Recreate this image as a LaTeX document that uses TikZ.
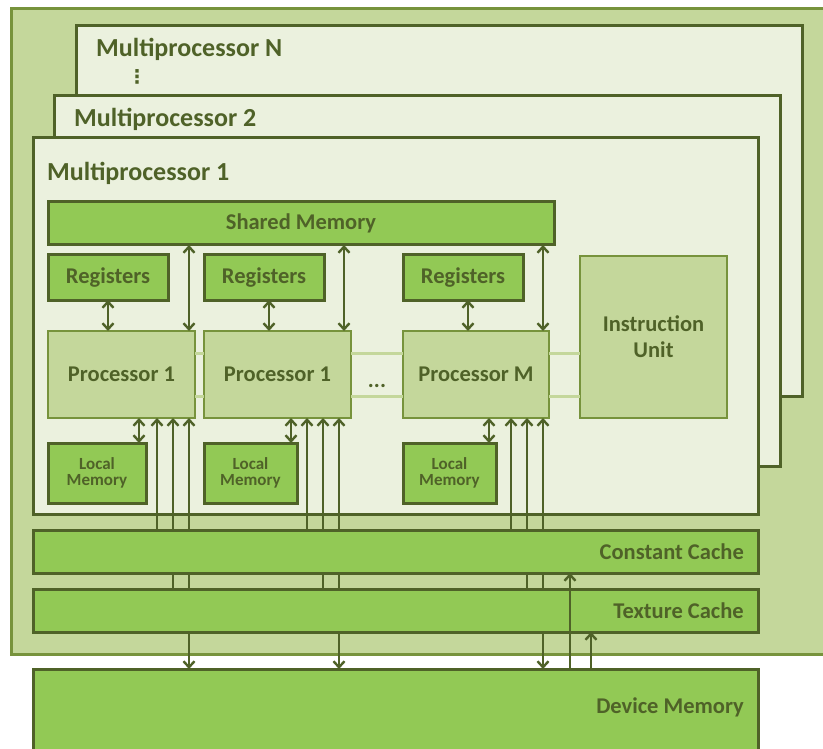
\documentclass[tikz,border=0pt]{standalone}
\usepackage{fontspec}
\setmainfont{Carlito}
\newfontfamily\dejavu{DejaVu Sans}
\usetikzlibrary{arrows.meta}
\definecolor{outerfill}{HTML}{C4D79B}
\definecolor{outerline}{HTML}{77933C}
\definecolor{mpfill}{HTML}{EBF1DE}
\definecolor{dark}{HTML}{4F6228}
\definecolor{bright}{HTML}{92C955}
\begin{document}
\begin{tikzpicture}[x=1pt,y=-1pt,
  box/.style={anchor=north west, inner sep=0pt, outer sep=0pt, rectangle},
  gpubox/.style={box, fill=outerfill, draw=outerline, line width=3pt},
  mpbox/.style={box, fill=mpfill, draw=dark, line width=3pt},
  memb/.style={box, fill=bright, draw=dark, line width=3pt, font=\bfseries\fontsize{22.5}{25}\selectfont, text=dark},
  procb/.style={box, fill=outerfill, draw=outerline, line width=2.5pt, font=\bfseries\fontsize{22.5}{25}\selectfont, text=dark},
  lmb/.style={memb, font=\bfseries\fontsize{17}{16}\selectfont, align=center},
  mplbl/.style={inner sep=0pt, anchor=base west, font=\bfseries\fontsize{26}{30}\selectfont, text=dark},
  lbl/.style={inner sep=0pt, font=\bfseries\fontsize{22.5}{25}\selectfont, text=dark},
  bus/.style={draw=outerfill, line width=3pt},
  conn/.style={draw=dark, line width=2.4pt},
  dbl/.style={conn, {Straight Barb[length=6pt,width=11pt]}-{Straight Barb[length=6pt,width=11pt]}},
  up/.style={conn, -{Straight Barb[length=6pt,width=11pt]}},
]
\useasboundingbox (0,0) rectangle (823,749);
\clip (0,0) rectangle (823,749);

% outer GPU box
\node[gpubox, minimum width=819pt, minimum height=645pt] (gpu) at (11,9) {};
% multiprocessors
\node[mpbox, minimum width=726pt, minimum height=370pt] (mpN) at (76,26) {};
\node[mplbl] (mpNl) at (96,56.5) {Multiprocessor N};
\node[inner sep=0pt, text=dark, font=\dejavu\bfseries\fontsize{19}{19}\selectfont] (dots) at (137,77) {⋮};
\node[mpbox, minimum width=726pt, minimum height=370pt] (mp2) at (54,96) {};
\node[mplbl] (mp2l) at (74,126.5) {Multiprocessor 2};
\node[mpbox, minimum width=725pt, minimum height=376pt] (mp1) at (33,138) {};
\node[mplbl] (mp1l) at (47,180.5) {Multiprocessor 1};

% shared memory
\node[memb, minimum width=506pt, minimum height=43pt] (shm) at (48,202) {Shared Memory};
% registers
\node[memb, minimum width=120pt, minimum height=45pt] (reg1) at (48,255) {Registers};
\node[memb, minimum width=120pt, minimum height=45pt] (reg2) at (204,255) {Registers};
\node[memb, minimum width=120pt, minimum height=45pt] (reg3) at (403,255) {Registers};

% instruction unit
\node[procb, minimum width=147pt, minimum height=162pt, align=center, font=\bfseries\fontsize{22.5}{26}\selectfont] (iu) at (580,256) {Instruction\\Unit};

% processors
\node[procb, minimum width=147pt, minimum height=87pt] (proc1) at (48,331) {Processor 1};
\node[procb, minimum width=147pt, minimum height=87pt] (proc2) at (204,331) {Processor 1};
\node[procb, minimum width=146pt, minimum height=87pt] (procM) at (403,331) {Processor M};
\node[lbl, anchor=base] (ell) at (377,387) {...};

% bus lines between the processors and the instruction unit
\coordinate (busA) at ([yshift=-22pt]proc1.north east);
\coordinate (busB) at ([yshift=22pt]proc1.south east);
\draw[bus] (busA) -- (busA -| proc2.west);
\draw[bus] (busB) -- (busB -| proc2.west);
\draw[bus] (busA -| proc2.east) -- (busA -| procM.west);
\draw[bus] (busB -| proc2.east) -- (busB -| procM.west);
\draw[bus] (busA -| procM.east) -- (busA -| iu.west);
\draw[bus] (busB -| procM.east) -- (busB -| iu.west);

% local memories
\node[lmb, minimum width=98pt, minimum height=60pt] (lm1) at (48,443) {Local\\Memory};
\node[lmb, minimum width=93pt, minimum height=60pt] (lm2) at (204,443) {Local\\Memory};
\node[lmb, minimum width=93pt, minimum height=60pt] (lm3) at (403,443) {Local\\Memory};

% device memory
\node[memb, minimum width=725pt, minimum height=95pt] (dm) at (33,669) {};
\node[lbl, anchor=east] (dml) at (744,707) {Device Memory};

% register <-> processor
\draw[dbl] (reg1.south) -- (reg1.south |- proc1.north);
\draw[dbl] ([xshift=5pt]reg2.south) -- ([xshift=5pt]reg2.south |- proc2.north);
\draw[dbl] ([xshift=5pt]reg3.south) -- ([xshift=5pt]reg3.south |- procM.north);

% shared memory <-> processor
\draw[dbl] ([xshift=-6pt]proc1.north east |- shm.south) -- ([xshift=-6pt]proc1.north east);
\draw[dbl] ([xshift=-7pt]proc2.north east |- shm.south) -- ([xshift=-7pt]proc2.north east);
\draw[dbl] ([xshift=-6pt]procM.north east |- shm.south) -- ([xshift=-6pt]procM.north east);

% processor <-> local memory
\draw[dbl] ([xshift=-7pt]lm1.north east |- proc1.south) -- ([xshift=-7pt]lm1.north east);
\draw[dbl] ([xshift=-6pt]lm2.north east |- proc2.south) -- ([xshift=-6pt]lm2.north east);
\draw[dbl] ([xshift=-7pt]lm3.north east |- procM.south) -- ([xshift=-7pt]lm3.north east);

% top edges of the caches
\coordinate (ccN) at (0,530);
\coordinate (tcN) at (0,589);

% processor inputs from caches / device memory
\coordinate (a1) at ([xshift=-38pt]proc1.south east);
\coordinate (b1) at ([xshift=-22pt]proc1.south east);
\coordinate (c1) at ([xshift=-6pt]proc1.south east);
\coordinate (a2) at ([xshift=-44pt]proc2.south east);
\coordinate (b2) at ([xshift=-28pt]proc2.south east);
\coordinate (c2) at ([xshift=-12pt]proc2.south east);
\coordinate (a3) at ([xshift=-38pt]procM.south east);
\coordinate (b3) at ([xshift=-22pt]procM.south east);
\coordinate (c3) at ([xshift=-6pt]procM.south east);
\foreach \i in {1,2,3}{
  \draw[up] (a\i |- ccN) -- (a\i);
  \draw[up] (b\i |- tcN) -- (b\i);
  \draw[dbl] (c\i |- dm.north) -- (c\i);
}

% caches
\node[memb, minimum width=725pt, minimum height=43pt] (cc) at (33,530) {};
\node[lbl, anchor=east] (ccl) at ([xshift=-14pt]cc.east) {Constant Cache};
\node[memb, minimum width=725pt, minimum height=43pt] (tc) at (33,589) {};
\node[lbl, anchor=east] (tcl) at ([xshift=-14pt]tc.east) {Texture Cache};

% device memory -> caches
\draw[up] ([xshift=-188pt]dm.north east) -- ([xshift=-188pt]dm.north east |- cc.south);
\draw[up] ([xshift=-167pt]dm.north east) -- ([xshift=-167pt]dm.north east |- tc.south);
\end{tikzpicture}
\end{document}
